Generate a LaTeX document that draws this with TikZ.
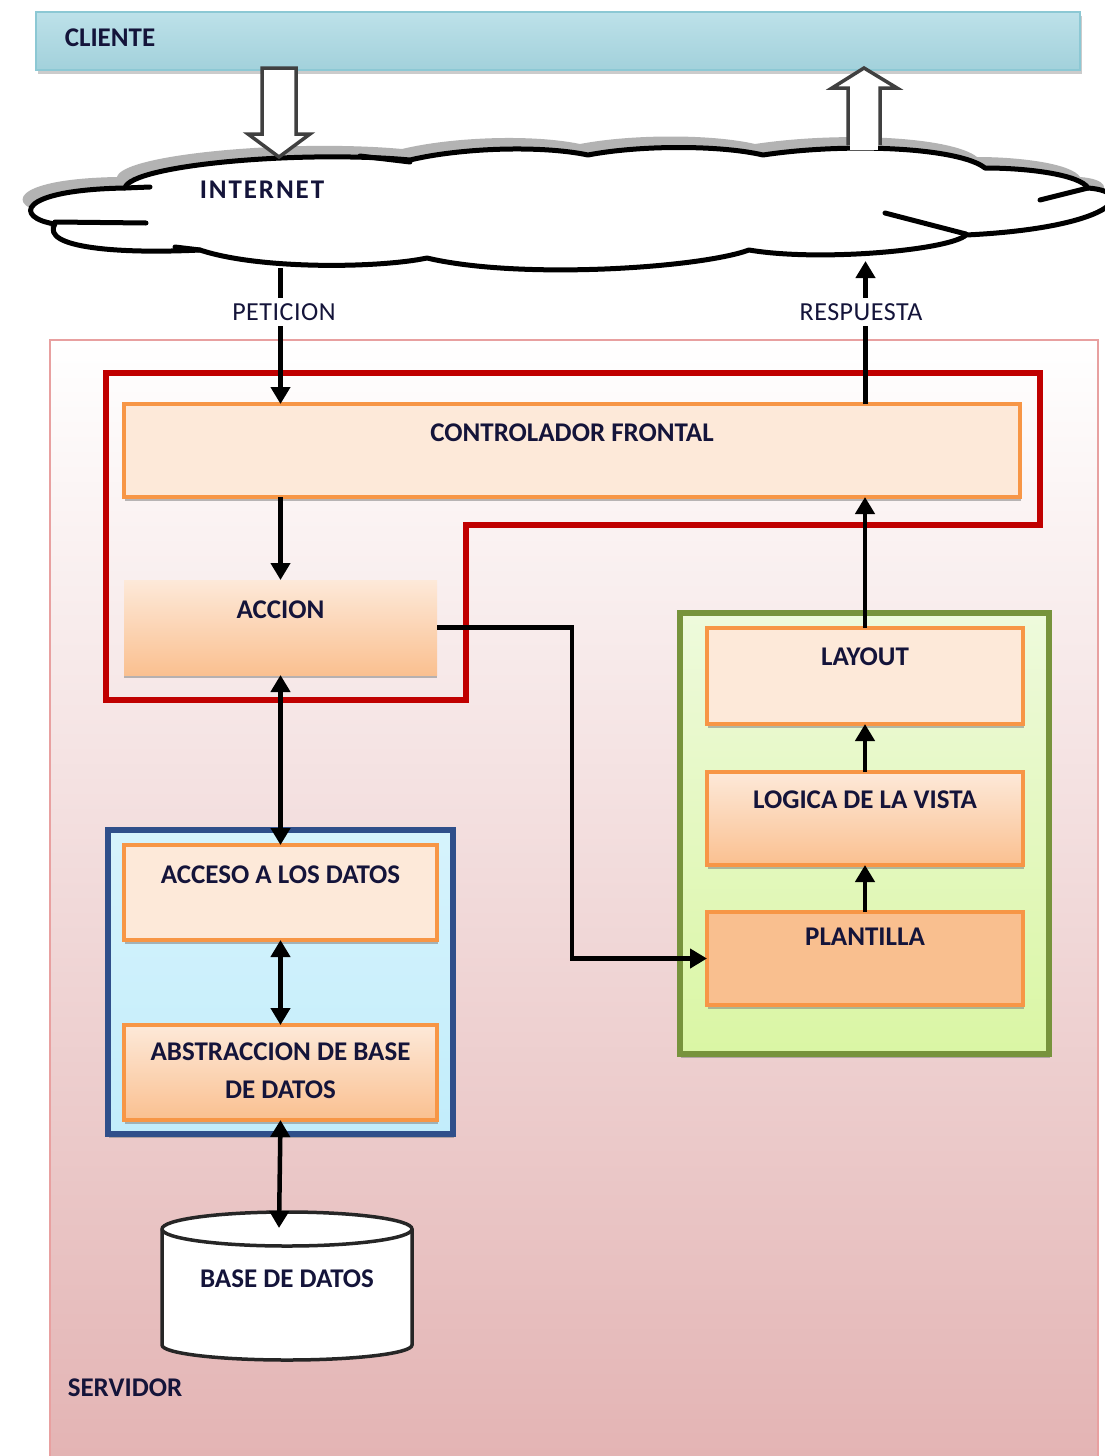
\documentclass[tikz,border=0pt]{standalone}
\usepackage{fontspec}
\setmainfont{Carlito}
\newfontfamily\spacedfont[LetterSpace=7]{Carlito}
\newfontfamily\lblfont[LetterSpace=2]{Carlito}
\usetikzlibrary{shadows,arrows.meta,calc}
\definecolor{txtc}{HTML}{14143A}
\definecolor{boxor}{HTML}{F79646}
\definecolor{boxfill}{HTML}{FDE9D9}
\definecolor{boxbot}{HTML}{FAC090}
\definecolor{plafill}{HTML}{F9BF8F}
\definecolor{servb}{HTML}{E8A0A0}
\definecolor{servbot}{HTML}{E3B3B3}
\definecolor{redl}{HTML}{C00000}
\definecolor{greenb}{HTML}{77933C}
\definecolor{greentop}{HTML}{EEFADC}
\definecolor{greenbot}{HTML}{DAF6A4}
\definecolor{blueb}{HTML}{2F4F8A}
\definecolor{bluefill}{HTML}{C2EDFB}
\definecolor{bluetop}{HTML}{D6F3FC}
\definecolor{clitop}{HTML}{BDE1E9}
\definecolor{climid}{HTML}{E4F3F7}
\definecolor{clibot}{HTML}{A2D1DB}
\definecolor{clibord}{HTML}{8CC8D4}
\begin{document}
\begin{tikzpicture}[x=1pt,y=-1pt,
  every node/.style={inner sep=0pt, outer sep=0pt},
  txt/.style={font=\fontsize{27}{30}\selectfont\bfseries, text=txtc, text height=17.4pt, text depth=0pt, anchor=center},
  sptxt/.style={txt, font=\fontsize{27}{30}\spacedfont\bfseries},
  lbl/.style={txt, font=\fontsize{26}{30}\lblfont, fill=white, inner xsep=3pt, inner ysep=5pt},
  sh/.style={drop shadow={shadow xshift=1pt, shadow yshift=-4pt, fill=black!50, opacity=0.55}},
  obox/.style={rectangle, draw=boxor, line width=3.5pt, fill=boxfill, anchor=north west, sh},
  gbox/.style={rectangle, draw=boxor, line width=3.5pt, top color=boxfill, bottom color=boxbot, anchor=north west, sh},
  arr/.style={line width=4.5pt, -{Triangle[length=17pt,width=19pt]}},
  dbl/.style={line width=4.5pt, {Triangle[length=17pt,width=19pt]}-{Triangle[length=17pt,width=19pt]}},
  blockarrow/.style={draw=black!75, line width=3.5pt, fill=white, line join=miter},
  cloudline/.style={draw=black, line width=5pt, line cap=round, line join=round}
]
\useasboundingbox (0,0) rectangle (1105,1456);
\fill[white] (0,0) rectangle (1105,1456);

% server area
\node[rectangle, draw=servb, line width=2pt, top color=white, bottom color=servbot, minimum width=1048pt, minimum height=1130pt, anchor=north west] (srv) at (50,340) {};
\node[txt] (srvt) at (125,1388) {SERVIDOR};

% client bar
\node[rectangle, draw=clibord, line width=2pt, top color=clitop, middle color=climid, bottom color=clibot, minimum width=1044pt, minimum height=58pt, anchor=north west, drop shadow={shadow xshift=2pt, shadow yshift=-4pt, fill=black!40, opacity=0.5}] (cli) at (36,12) {};
\node[txt] (clit) at (110,38) {CLIENTE};

% cloud
\def\cloudpath{(125,188) .. controls (130,165) and (300,150) .. (410,160)
  .. controls (460,148) and (540,145) .. (588,155)
  .. controls (640,145) and (720,145) .. (763,155)
  .. controls (850,142) and (960,148) .. (985,168)
  .. controls (1030,168) and (1080,175) .. (1088,188)
  .. controls (1140,192) and (1112,228) .. (966,235)
  .. controls (950,250) and (820,262) .. (749,250)
  .. controls (700,268) and (520,280) .. (427,258)
  .. controls (380,268) and (260,270) .. (200,250)
  .. controls (120,254) and (40,248) .. (55,224)
  .. controls (15,218) and (15,190) .. cycle}
\fill[black!35, opacity=0.85, shift={(-8,-11)}] \cloudpath;
\path[cloudline, fill=white] \cloudpath;
\draw[cloudline] (125,188) -- (150,187);
\draw[cloudline] (360,156) -- (410,162);
\draw[cloudline] (1040,200) -- (1088,188);
\draw[cloudline] (885,213) -- (966,234);
\draw[cloudline] (175,247) -- (200,250);
\draw[cloudline] (55,222) -- (146,223);
\node[sptxt] (inet) at (262,190) {INTERNET};

% block arrows
\draw[blockarrow] (262,68) -- (296,68) -- (296,134) -- (310,134) -- (279,157) -- (248,134) -- (262,134) -- cycle;
\draw[blockarrow] (848,145) -- (848,88) -- (832,88) -- (864,68) -- (897,88) -- (880,88) -- (880,145);
\fill[white] (850,128) rectangle (878,150);

% red outline of controller
\draw[redl, line width=5.5pt, line join=miter] (106,373) -- (1040,373) -- (1040,525) -- (466,525) -- (466,700) -- (106,700) -- cycle;

% green and blue groups
\node[rectangle, draw=greenb, line width=5.5pt, top color=greentop, bottom color=greenbot, minimum width=369pt, minimum height=441pt, anchor=north west, sh] (grn) at (680,613) {};
\node[rectangle, draw=blueb, line width=5.5pt, top color=bluetop, bottom color=bluefill, minimum width=345pt, minimum height=304pt, anchor=north west, sh] (blu) at (108,830) {};

% boxes
\node[obox, minimum width=896pt, minimum height=93pt] (cf) at (124,404) {};
\node[txt] (cft) at ($(cf.north)+(0,29)$) {CONTROLADOR FRONTAL};
\node[rectangle, top color=boxfill, bottom color=boxbot, minimum width=313pt, minimum height=95pt, anchor=north west, drop shadow={shadow xshift=0pt, shadow yshift=-3pt, fill=black!45, opacity=0.6}] (acc) at (124,580) {};
\node[txt] (acct) at ($(acc.north)+(0,30)$) {ACCION};

\node[obox, minimum width=316pt, minimum height=96pt] (lay) at (707,628) {};
\node[txt] (layt) at ($(lay.north)+(0,29)$) {LAYOUT};
\node[gbox, minimum width=316pt, minimum height=93pt] (log) at (707,772) {};
\node[txt] (logt) at ($(log.north)+(0,28)$) {LOGICA DE LA VISTA};
\node[obox, fill=plafill, minimum width=316pt, minimum height=93pt] (pla) at (707,912) {};
\node[txt] (plat) at ($(pla.north)+(0,25)$) {PLANTILLA};

\node[obox, minimum width=313pt, minimum height=95pt] (acce) at (124,845) {};
\node[txt] (accet) at ($(acce.north)+(0,30)$) {ACCESO A LOS DATOS};
\node[gbox, minimum width=313pt, minimum height=95pt] (abs) at (124,1025) {};
\node[txt] (abst1) at ($(abs.north)+(0,27)$) {ABSTRACCION DE BASE};
\node[txt] (abst2) at ($(abs.north)+(0,65)$) {DE DATOS};

% database cylinder
\path[draw=black!85, line width=3.5pt, fill=white] (162,1229) -- (162,1345) arc[start angle=180, end angle=360, x radius=125pt, y radius=15pt] -- (412,1229) arc[start angle=0, end angle=180, x radius=125pt, y radius=17pt] -- cycle;
\draw[black!85, line width=3.5pt] (162,1229) arc[start angle=180, end angle=360, x radius=125pt, y radius=17pt];
\coordinate (dbtop) at (279,1228);
\node[txt] (dbt) at (287,1279) {BASE DE DATOS};

% connectors
\coordinate (petc) at (280.5,268);
\coordinate (respc) at (865.5,261);
\draw[arr] (petc) -- (petc |- cf.north);
\draw[arr] (respc |- cf.north) -- (respc);
\draw[arr] (cf.south -| acc.north) -- (acc.north);
\draw[arr] (acc.east) -- ++(135,0) |- (pla.west);
\draw[dbl] (acc.south) -- (acce.north);
\draw[dbl] (acce.south) -- (abs.north);
\draw[dbl] (abs.south) -- (dbtop);
\draw[arr] (lay.north) -- (lay.north |- cf.south);
\draw[arr] (log.north) -- (lay.south);
\draw[arr] (pla.north) -- (log.south);

% labels on the request/response lines
\node[lbl] (pett) at (284,312) {PETICION};
\node[lbl] (respt) at (861,312) {RESPUESTA};
\end{tikzpicture}
\end{document}
